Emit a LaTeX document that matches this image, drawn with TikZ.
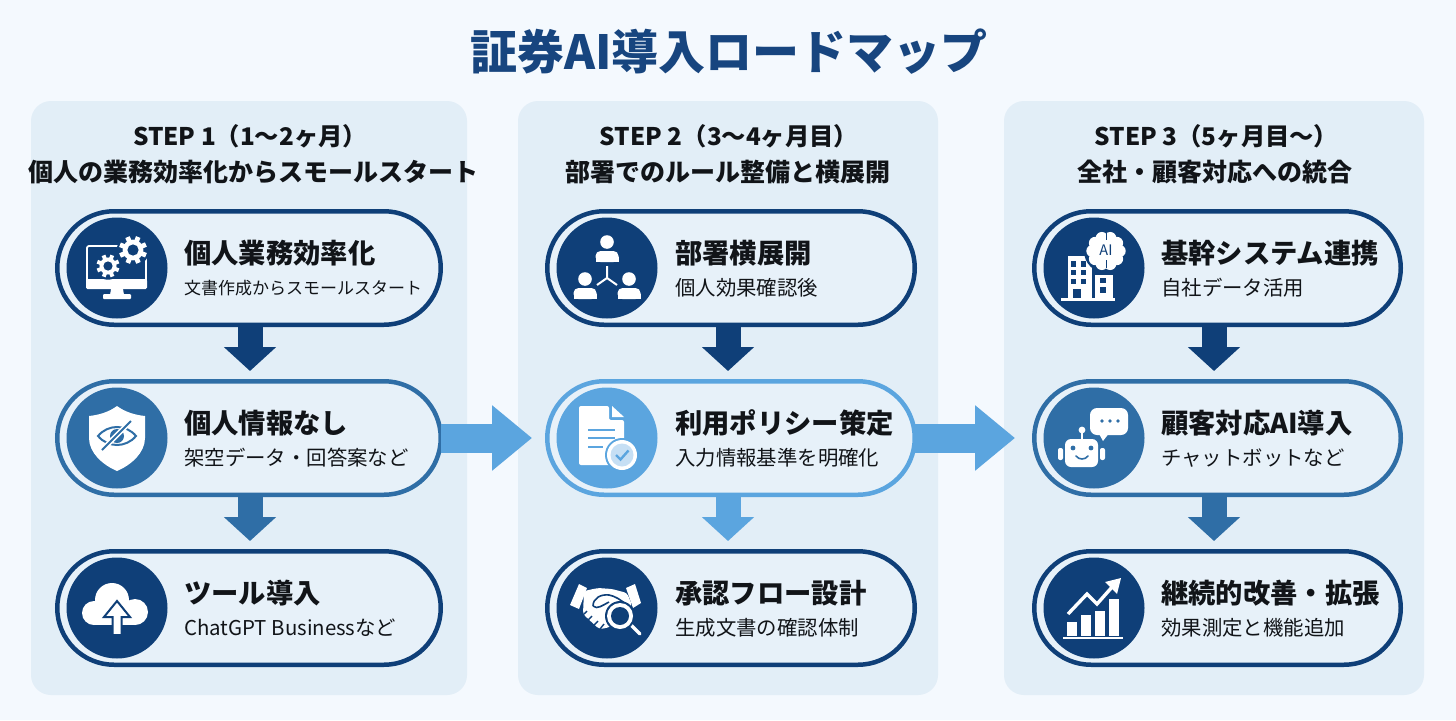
\documentclass[tikz,border=0pt]{standalone}
\usepackage{fontspec}
\setmainfont{Noto Sans CJK JP}
\usetikzlibrary{shapes.misc,arrows.meta,calc}
\definecolor{pagebg}{HTML}{F4F9FE}
\definecolor{panelbg}{HTML}{E2EEF7}
\definecolor{pillbg}{HTML}{E7F1F9}
\definecolor{cdark}{HTML}{0F3F78}
\definecolor{cmid}{HTML}{2F6EA6}
\definecolor{clight}{HTML}{5BA5DF}
\definecolor{titlecol}{HTML}{17457F}
\definecolor{inkcol}{HTML}{111418}
\tikzset{
  panelbox/.style={fill=panelbg,draw=none,rounded corners=20pt},
  pillbox/.style={rounded rectangle,draw=#1,fill=pillbg,line width=4.5pt,minimum height=113.5pt,inner sep=0pt},
  iconbase/.style={circle,fill=#1,minimum size=101pt,inner sep=0pt,draw=none},
  maintitle/.style={font=\fontsize{47}{56}\selectfont\bfseries,text=titlecol,inner sep=0pt},
  headtext/.style={font=\fontsize{24.3}{30}\selectfont\bfseries,text=inkcol,inner sep=0pt},
  headtextb/.style={font=\fontsize{25}{30}\selectfont\bfseries,text=inkcol,inner sep=0pt},
  pilltitle/.style={font=\fontsize{27.3}{32}\selectfont\bfseries,text=inkcol,inner sep=0pt,anchor=west},
  pillsub/.style={font=\fontsize{20.4}{24}\selectfont,text=inkcol,inner sep=0pt,anchor=west},
  flowdown/.style={draw=#1,line width=25pt,-{Triangle[length=24pt,width=51pt]},shorten >=8pt},
  flowside/.style={draw=clight,line width=29pt,-{Triangle[length=40pt,width=63pt]}},
}
% pill: id, centre x, outer width, centre y, colour, text x, title, sub, icon
\newcommand{\pillrow}[9]{%
  \node[pillbox=#5,minimum width=#3pt-4.5pt] (#1) at (#2,#4) {};
  \node[iconbase=#5] (#1-c) at ($(#2,#4)+(-#3/2+62,0)$) {};
  \node[pilltitle] (#1-t) at (#6,#4-15) {#7};
  \node[pillsub] (#1-s) at (#6,#4+20) {#8};
  \begin{scope}[shift={(#1-c.center)}]\def\ic{#5}#9\end{scope}
}
\newcommand{\icgear}[3]{% x y r
  \begin{scope}[shift={(#1,#2)}]
    \fill[\ic] (0,0) circle (#3+2.2);
    \foreach \a in {0,45,...,315}{\draw[white,line width=#3*0.34pt] (\a+22:#3*0.6) -- (\a+22:#3);}
    \fill[white] (0,0) circle (#3*0.74);
    \fill[\ic] (0,0) circle (#3*0.4);
  \end{scope}
}
\newcommand{\icperson}[2]{%
  \fill[white] (#1,#2) circle (6.8);
  \fill[white,rounded corners=5pt] (#1-11.5,#2+20) -- (#1-11.5,#2+9) -- (#1+11.5,#2+9) -- (#1+11.5,#2+20) -- cycle;
  \fill[white] (#1-11.5,#2+20) rectangle (#1+11.5,#2+15);
}
\newcommand{\icmonitor}{%
  \draw[white,line width=1.8pt,rounded corners=2pt] (-30,-22) rectangle (29,18);
  \fill[white,rounded corners=1.5pt] (-31,11) rectangle (30,21);
  \fill[white] (-6,21) -- (6,21) -- (7,27) -- (-7,27) -- cycle;
  \fill[white,rounded corners=1pt] (-14,26) rectangle (14,31);
  \icgear{16}{-18}{14}
  \icgear{-9}{-2}{11.5}
}
\newcommand{\icshield}{%
  \fill[white] (0,-32) .. controls (-8,-26) and (-18,-23) .. (-28,-22) -- (-28,0)
     .. controls (-28,15) and (-14,27) .. (0,33) .. controls (14,27) and (28,15) .. (28,0)
     -- (28,-22) .. controls (18,-23) and (8,-26) .. (0,-32) -- cycle;
  \draw[\ic,line width=2pt] (-19,-2) .. controls (-9,-14) and (9,-14) .. (19,-2) .. controls (9,10) and (-9,10) .. (-19,-2) -- cycle;
  \fill[\ic] (0,-2) circle (7);
  \draw[white,line width=5pt] (-15,12) -- (14,-17);
  \draw[\ic,line width=2pt] (-15,12) -- (14,-17);
}
\newcommand{\iccloud}{%
  \fill[white] (-23,5) circle (12);
  \fill[white] (-5,-8) circle (17);
  \fill[white] (18,4) circle (13);
  \fill[white] (-23,-2) rectangle (18,17);
  \draw[\ic,line width=2pt,fill=white,line join=miter] (0,-7) -- (13,9) -- (4.5,9) -- (4.5,27) -- (-4.5,27) -- (-4.5,9) -- (-13,9) -- cycle;
}
\newcommand{\icpeople}{%
  \icperson{0}{-26}\icperson{-22}{11}\icperson{22}{11}
  \draw[white,line width=2pt] (0,-2) -- (0,10) (0,10) -- (-10,17) (0,10) -- (10,17);
}
\newcommand{\icdoc}{%
  \fill[white,rounded corners=2pt] (-28,-32) -- (2,-32) -- (2,-18) -- (17,-18) -- (17,27) -- (-28,27) -- cycle;
  \fill[white] (5,-32) -- (17,-21) -- (5,-21) -- cycle;
  \draw[\ic,line width=2.5pt] (-19,-8) -- (8,-8) (-19,0) -- (8,0) (-19,9) -- (-4,9);
  \fill[\ic] (15,17) circle (17);
  \fill[white] (15,17) circle (15);
  \fill[\ic!35!white] (15,17) circle (11.5);
  \draw[\ic,line width=2.4pt] (9,17) -- (13.5,21.5) -- (21.5,12.5);
}
\newcommand{\ichands}{%
  \fill[white] (-37,-3) -- (-28,-24) -- (-20,-20) -- (-28,1) -- cycle;
  \fill[white] (19,-20) -- (28,-24) -- (34,-5) -- (26,0) -- cycle;
  \fill[white,rounded corners=3pt] (-23,-17) -- (-9,-20) -- (5,-19) -- (20,-15) -- (25,-3) -- (16,12) -- (0,20) -- (-8,21) -- (-24,6) -- cycle;
  \draw[\ic,line width=1.6pt] (-14,-2) .. controls (-14,-10) and (-6,-14) .. (2,-13) .. controls (8,-12) and (14,-8) .. (20,-3);
  \draw[\ic,line width=1.6pt] (-14,-2) .. controls (-10,2) and (-4,-3) .. (2,-6);
  \draw[\ic,line width=1.4pt] (-20,3) -- (-23,6) (-15,8) -- (-20,13) (-9,13) -- (-14,18) (-3,16) -- (-7,21);
  \draw[white,line width=3.2pt,line cap=round] (22,15) -- (33,26);
  \fill[\ic] (13,8) circle (15);
  \fill[white] (13,8) circle (13);
  \fill[\ic] (13,8) circle (9);
}
\newcommand{\icbuilding}{%
  \fill[white] (-26,-12) rectangle (-2.5,30);
  \fill[white] (1,7) rectangle (19,30);
  \fill[white] (-33,30) rectangle (21,32.5);
  \fill[\ic] (-23,-7) rectangle (-18,-1);
  \fill[\ic] (-13,-7) rectangle (-8,-1);
  \fill[\ic] (-23,2) rectangle (-18,7);
  \fill[\ic] (-13,2) rectangle (-8,7);
  \fill[\ic] (-23,11) rectangle (-18,16);
  \fill[\ic] (-13,11) rectangle (-8,16);
  \fill[\ic] (-21,21) rectangle (-13,30);
  \fill[\ic] (6,10) rectangle (12,15);
  \fill[\ic] (6,19) rectangle (12,25);
  \fill[\ic] (12,-17) circle (22);
  \foreach \a in {0,36,...,324}{\fill[white] (12,-17)++(\a:13.5) circle (6.2);}
  \fill[white] (12,-17) circle (12);
  \draw[\ic,line width=.9pt] (12,-35) -- (12,-28) (12,-8) -- (12,0);
  \node[font=\fontsize{14.5}{15}\selectfont,text=\ic,inner sep=0pt] (ailabel) at (12,-18) {AI};
}
\newcommand{\icrobot}{%
  \fill[white,rounded corners=7pt] (-4,-30) rectangle (34,-3);
  \fill[white] (4,-6) -- (9,3) -- (16,-6) -- cycle;
  \fill[\ic] (8,-17) circle (1.8);
  \fill[\ic] (16,-17) circle (1.8);
  \fill[\ic] (24,-17) circle (1.8);
  \fill[white] (-12,-8) circle (3.4);
  \draw[white,line width=1.8pt] (-12,-8) -- (-12,2);
  \fill[white,rounded corners=6pt] (-29,1) rectangle (4,29);
  \fill[white,rounded corners=2pt] (-36,10) rectangle (-31,22);
  \fill[white,rounded corners=2pt] (6,10) rectangle (11,22);
  \fill[\ic] (-21,10) circle (2.4);
  \fill[\ic] (-3,10) circle (2.4);
  \draw[\ic,line width=1.6pt,line cap=round] (-18,18) .. controls (-15,22) and (-9,22) .. (-6,18);
}
\newcommand{\icchart}{%
  \fill[white] (-27,14) rectangle (-17,28);
  \fill[white] (-13,7) rectangle (-3,28);
  \fill[white] (1,3) rectangle (11,28);
  \fill[white] (15,-9) rectangle (25,28);
  \fill[white] (-31,28.5) rectangle (29,31);
  \draw[white,line width=3.4pt] (-26,6) -- (-7,-14) -- (3,-4) -- (19,-22);
  \fill[white] (27,-30) -- (11,-26) -- (23,-14) -- cycle;
}
\begin{document}
\begin{tikzpicture}[x=1pt,y=-1pt]
\useasboundingbox (0,0) rectangle (1456,720);
\fill[pagebg] (0,0) rectangle (1456,720);
\node[maintitle] (title) at (729,52) {証券AI導入ロードマップ};
\path[panelbox] (31,101) rectangle (467,695);
\path[panelbox] (518,101) rectangle (938,695);
\path[panelbox] (1004,101) rectangle (1424,695);
\node[headtext] (h1a) at (250,136) {STEP 1（1〜2ヶ月）};
\node[headtextb] (h1b) at (253.5,172) {個人の業務効率化からスモールスタート};
\node[headtext] (h2a) at (729,136) {STEP 2（3〜4ヶ月目）};
\node[headtextb] (h2b) at (728,172) {部署でのルール整備と横展開};
\node[headtext] (h3a) at (1216.5,136) {STEP 3（5ヶ月目〜）};
\node[headtextb] (h3b) at (1214.5,172) {全社・顧客対応への統合};

\pillrow{a1}{249}{388}{268}{cdark}{184}{個人業務効率化}{\fontsize{17}{21}\selectfont 文書作成からスモールスタート}{\icmonitor}
\pillrow{a2}{249}{388}{438}{cmid}{184}{個人情報なし}{架空データ・回答案など}{\icshield}
\pillrow{a3}{249}{388}{608}{cdark}{184}{ツール導入}{ChatGPT Businessなど}{\iccloud}
\pillrow{b1}{731}{372}{268}{cdark}{675}{部署横展開}{個人効果確認後}{\icpeople}
\pillrow{b2}{731}{372}{438}{clight}{675}{利用ポリシー策定}{入力情報基準を明確化}{\icdoc}
\pillrow{b3}{731}{372}{608}{cdark}{675}{承認フロー設計}{生成文書の確認体制}{\ichands}
\pillrow{c1}{1217.5}{371}{268}{cdark}{1161}{基幹システム連携}{自社データ活用}{\icbuilding}
\pillrow{c2}{1217.5}{371}{438}{cmid}{1161}{顧客対応AI導入}{チャットボットなど}{\icrobot}
\pillrow{c3}{1217.5}{371}{608}{cdark}{1161}{継続的改善・拡張}{効果測定と機能追加}{\icchart}

\draw[flowdown=cdark] ([xshift=1pt]a1.south) -- ([xshift=1pt]a2.north);
\draw[flowdown=cmid] ([xshift=1pt]a2.south) -- ([xshift=1pt]a3.north);
\draw[flowdown=cdark] ([xshift=-3pt]b1.south) -- ([xshift=-3pt]b2.north);
\draw[flowdown=clight] ([xshift=-3pt]b2.south) -- ([xshift=-3pt]b3.north);
\draw[flowdown=cdark] ([xshift=-3.5pt]c1.south) -- ([xshift=-3.5pt]c2.north);
\draw[flowdown=cmid] ([xshift=-3.5pt]c2.south) -- ([xshift=-3.5pt]c3.north);
\draw[flowside,shorten <=-2pt,shorten >=13pt] (a2.east) -- (b2.west);
\draw[flowside,shorten <=-2pt,shorten >=17pt] (b2.east) -- (c2.west);
\end{tikzpicture}
\end{document}
